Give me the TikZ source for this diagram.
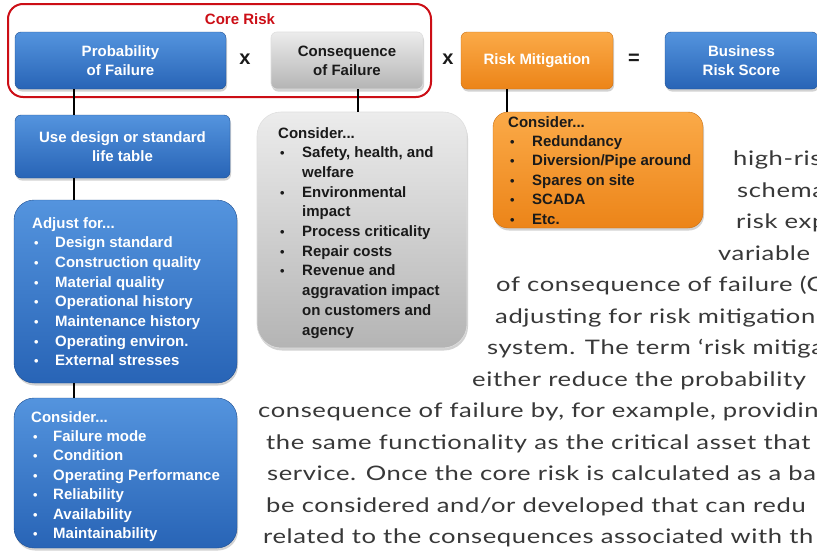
\documentclass[tikz,border=0pt]{standalone}
\usepackage{fontspec}
\setmainfont{Liberation Sans}
\newfontfamily\bodyfont[FakeStretch=1.28, LetterSpace=3]{Lato}
\usetikzlibrary{shadows}

\definecolor{bxblueT}{RGB}{84,148,222}
\definecolor{bxblueB}{RGB}{40,100,182}
\definecolor{bxgreyT}{RGB}{236,236,236}
\definecolor{bxgreyB}{RGB}{180,180,180}
\definecolor{bxorT}{RGB}{251,170,72}
\definecolor{bxorB}{RGB}{236,132,24}
\definecolor{corered}{RGB}{204,14,22}
\definecolor{bodygrey}{RGB}{56,56,56}
\definecolor{darktxt}{RGB}{26,26,26}

\newcommand\bitem[2]{\makebox[#1][l]{\hspace{2pt}\scalebox{0.85}{\textbullet}}#2}

\tikzset{
  box/.style={rounded corners=#1, inner sep=0pt, outer sep=0pt,
    drop shadow={shadow xshift=1pt, shadow yshift=-2.5pt, opacity=0.35}},
  box/.default=6pt,
  bluebox/.style={box=#1, top color=bxblueT, bottom color=bxblueB, draw=bxblueB!80!black, line width=0.4pt},
  bluebox/.default=6pt,
  greybox/.style={box=#1, top color=bxgreyT, bottom color=bxgreyB, draw=white!75!gray, line width=0.6pt},
  greybox/.default=6pt,
  orbox/.style={box=#1, top color=bxorT, bottom color=bxorB, draw=bxorB!85!black, line width=0.4pt},
  orbox/.default=6pt,
  title/.style={font=\fontsize{15}{19}\selectfont\bfseries, align=center},
  listtxt/.style={anchor=base west, inner sep=0pt, font=\fontsize{15}{#1}\selectfont\bfseries},
  opsym/.style={font=\fontsize{20}{20}\selectfont\bfseries, text=darktxt},
  bodyline/.style={anchor=base west, inner sep=0pt, text=bodygrey, font=\bodyfont\fontsize{20}{25}\selectfont},
  conn/.style={draw=black, line width=1.3pt},
}

\begin{document}
\begin{tikzpicture}[x=1pt,y=-1pt]
\clip (0,0) rectangle (817,552);
\fill[white] (0,0) rectangle (817,552);

% body text behind the diagram
\node[bodyline] (t1) at (733,165) {high-ris};
\node[bodyline] (t2) at (737,197) {schema};
\node[bodyline] (t3) at (736,228) {risk exp};
\node[bodyline] (t4) at (718,260) {variable};
\node[bodyline] (t5) at (496,291) {of consequence of failure (C};
\node[bodyline] (t6) at (495,323) {adjusting for risk mitigation r};
\node[bodyline] (t7) at (487,354) {system. The term ‘risk mitiga};
\node[bodyline] (t8) at (472,386) {either reduce the probability};
\node[bodyline] (t9) at (258,417) {consequence of failure by, for example, providin};
\node[bodyline] (t10) at (266,449) {the same functionality as the critical asset that};
\node[bodyline] (t11) at (267,480) {service. Once the core risk is calculated as a ba};
\node[bodyline] (t12) at (266,512) {be considered and/or developed that can redu};
\node[bodyline] (t13) at (263,543) {related to the consequences associated with th};

% top row
\node[bluebox, minimum width=211pt, minimum height=57pt, title, text=white] (pof) at (120.5,60.5) {Probability\\of Failure};
\node[greybox, minimum width=152pt, minimum height=57pt, title, text=darktxt] (cof) at (347,60.5) {Consequence\\of Failure};
\node[orbox, minimum width=152pt, minimum height=57pt, title, text=white] (rm) at (537,60.5) {Risk Mitigation};
\node[bluebox, minimum width=153pt, minimum height=57pt, title, text=white] (brs) at (741.5,60.5) {Business\\Risk Score};

\node[opsym] (x1) at (245,59) {x};
\node[opsym] (x2) at (448,59) {x};
\node[opsym] (eq) at (634,59) {=};

% core risk frame
\node[draw=corered, line width=2pt, rounded corners=15pt, minimum width=423pt, minimum height=93pt, inner sep=0pt] (core) at (219.5,50.5) {};
\node[font=\fontsize{15}{15}\selectfont\bfseries, text=corered] (coret) at (240,19) {Core Risk};

% left column
\node[bluebox, minimum width=215pt, minimum height=63pt, title, text=white] (use) at (122.5,146.5) {Use design or standard\\life table};
\node[bluebox=20pt, minimum width=223pt, minimum height=183pt] (adj) at (125.5,291.5) {};
\node[bluebox=20pt, minimum width=223pt, minimum height=150pt] (pcons) at (125.5,473) {};

\node[listtxt=19.7pt, text=white] (adjt) at (32,228) {\begin{tabular}[t]{@{}l@{}}
Adjust for...\\
\bitem{23pt}{Design standard}\\
\bitem{23pt}{Construction quality}\\
\bitem{23pt}{Material quality}\\
\bitem{23pt}{Operational history}\\
\bitem{23pt}{Maintenance history}\\
\bitem{23pt}{Operating environ.}\\
\bitem{23pt}{External stresses}
\end{tabular}};

\node[listtxt=19.4pt, text=white] (pconst) at (31,422) {\begin{tabular}[t]{@{}l@{}}
Consider...\\
\bitem{22pt}{Failure mode}\\
\bitem{22pt}{Condition}\\
\bitem{22pt}{Operating Performance}\\
\bitem{22pt}{Reliability}\\
\bitem{22pt}{Availability}\\
\bitem{22pt}{Maintainability}
\end{tabular}};

% consequence list
\node[greybox=24pt, minimum width=210pt, minimum height=236pt] (cgl) at (362,230) {};
\node[listtxt=19.7pt, text=darktxt] (cglt) at (278,138) {\begin{tabular}[t]{@{}l@{}}
Consider...\\
\bitem{24pt}{Safety, health, and}\\
\hspace*{24pt}welfare\\
\bitem{24pt}{Environmental}\\
\hspace*{24pt}impact\\
\bitem{24pt}{Process criticality}\\
\bitem{24pt}{Repair costs}\\
\bitem{24pt}{Revenue and}\\
\hspace*{24pt}aggravation impact\\
\hspace*{24pt}on customers and\\
\hspace*{24pt}agency
\end{tabular}};

% mitigation list
\node[orbox=15pt, minimum width=210pt, minimum height=116pt] (orl) at (598,170) {};
\node[listtxt=19.4pt, text=darktxt] (orlt) at (508,127) {\begin{tabular}[t]{@{}l@{}}
Consider...\\
\bitem{24pt}{Redundancy}\\
\bitem{24pt}{Diversion/Pipe around}\\
\bitem{24pt}{Spares on site}\\
\bitem{24pt}{SCADA}\\
\bitem{24pt}{Etc.}
\end{tabular}};

% connectors
\draw[conn] ([xshift=59pt]pof.south west) coordinate (c1) -- (c1 |- use.north);
\draw[conn] ([xshift=59pt]use.south west) coordinate (c2) -- (c2 |- adj.north);
\draw[conn] ([xshift=60pt]adj.south west) coordinate (c3) -- (c3 |- pcons.north);
\draw[conn] ([xshift=87pt]cof.south west) coordinate (c4) -- (c4 |- cgl.north);
\draw[conn] ([xshift=46pt]rm.south west) coordinate (c5) -- (c5 |- orl.north);
\end{tikzpicture}
\end{document}
